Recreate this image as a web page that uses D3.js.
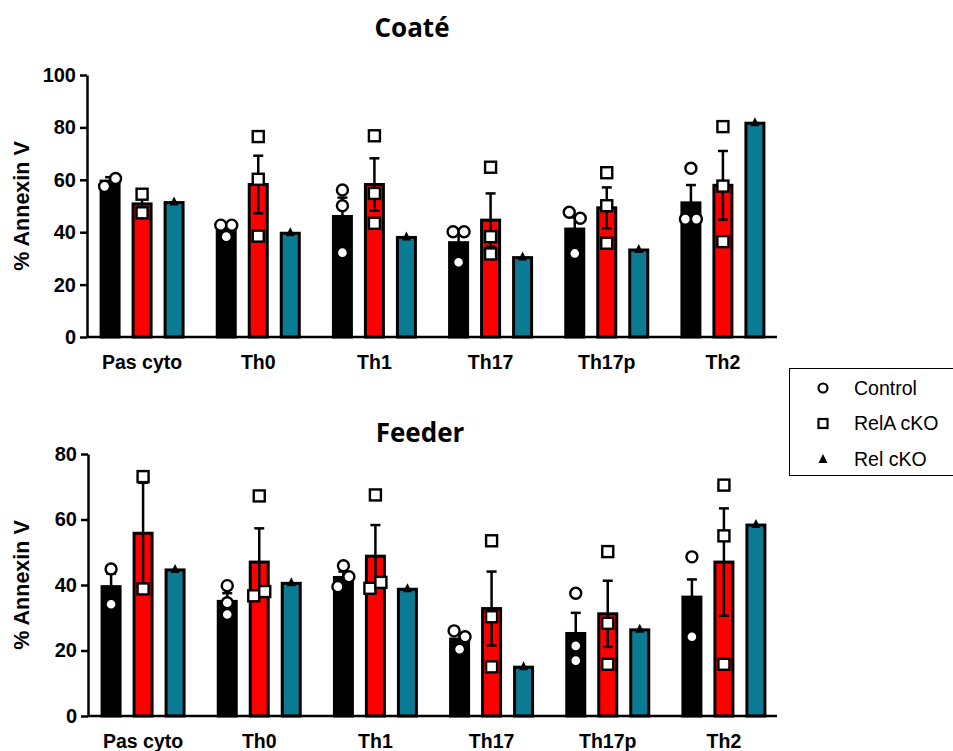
<!DOCTYPE html>
<html>
<head>
<meta charset="utf-8">
<script src="https://cdn.jsdelivr.net/npm/d3@7"></script>
<style>
  html, body { margin: 0; padding: 0; background: #fff; }
  svg { display: block; }
</style>
</head>
<body>
<svg id="chart" width="953" height="751"></svg>
<script>
// ---------- DATA ----------
const categories = ["Pas cyto", "Th0", "Th1", "Th17", "Th17p", "Th2"];
const seriesNames = ["Control", "RelA cKO", "Rel cKO"];

// Coaté panel
const coateTicks = [0, 20, 40, 60, 80, 100];
const coateControl = [59.5, 41.5, 46.0, 36.0, 41.2, 51.2];
const coateControlSem = [1.5, 1.5, 7.2, 4.0, 4.5, 6.8];
const coateControlPts = [[57.5, 60.5], [42.7, 42.7, 38.3], [56.1, 50.1, 32.2], [40.2, 40.2, 28.5], [47.6, 45.3, 31.9], [64.4, 45.0, 45.0]];
const coateRelA = [50.8, 58.2, 58.2, 44.6, 49.3, 57.9];
const coateRelASem = [3.3, 11.0, 10.0, 10.2, 7.8, 13.1];
const coateRelAPts = [[54.5, 47.4], [76.5, 60.2, 38.5], [76.8, 54.8, 43.4], [64.8, 38.3, 31.7], [62.7, 50.1, 35.8], [80.3, 57.6, 36.4]];
const coateRel = [51.3, 39.6, 38.0, 30.3, 33.2, 81.6];

// Feeder panel
const feederTicks = [0, 20, 40, 60, 80];
const feederControl = [39.5, 35.0, 42.3, 23.5, 25.2, 36.3];
const feederControlSem = [4.0, 2.5, 1.8, 1.5, 6.3, 5.4];
const feederControlPts = [[44.9, 34.1], [39.8, 34.6, 31.0], [45.9, 39.5, 42.5], [26.0, 24.2, 20.4], [37.5, 21.4, 16.9], [48.6, 24.2]];
const feederRelA = [55.8, 47.0, 48.8, 32.8, 31.2, 47.0];
const feederRelASem = [15.4, 10.3, 9.5, 11.3, 10.1, 16.4];
const feederRelAPts = [[73.1, 38.8], [67.2, 36.7, 38.0], [67.5, 39.0, 40.8], [53.5, 30.3, 15.0], [50.2, 28.3, 15.8], [70.5, 55.0, 15.8]];
const feederRel = [44.6, 40.5, 38.7, 14.9, 26.3, 58.3];

// ---------- STYLE ----------
const colors = { "Control": "#000000", "RelA cKO": "#ff0000", "Rel cKO": "#0b7b93" };
const boldFont = "'Liberation Sans', Arial, sans-serif";

const svg = d3.select("#chart");

function drawPanel(cfg) {
  const g = svg.append("g");
  const y = d3.scaleLinear().domain([0, cfg.max]).range([cfg.y0, cfg.y1]);
  const x = d3.scaleBand().domain(categories).range([cfg.xr0, cfg.xr1]).padding(0);
  const sub = d3.scaleBand().domain(seriesNames).range([-48, 48]).padding(0);
  const cx = (cat, s) => x(cat) + x.bandwidth() / 2 + sub(s) + sub.bandwidth() / 2;
  const barW = 18;

  // title
  g.append("text").attr("x", cfg.titleX).attr("y", cfg.titleY)
    .attr("text-anchor", "middle")
    .style("font-family", "'Open Sans', sans-serif").style("font-weight", 700)
    .style("font-size", "26px").text(cfg.title);

  // bars
  const bars = [];
  categories.forEach((c, i) => {
    bars.push({ c, s: "Control", v: cfg.control[i] });
    bars.push({ c, s: "RelA cKO", v: cfg.relA[i] });
    bars.push({ c, s: "Rel cKO", v: cfg.rel[i] });
  });
  g.selectAll("rect.bar").data(bars).enter().append("rect")
    .attr("class", "bar")
    .attr("x", d => cx(d.c, d.s) - barW / 2)
    .attr("width", barW)
    .attr("y", d => y(d.v))
    .attr("height", d => y(0) - y(d.v))
    .attr("fill", d => colors[d.s])
    .attr("stroke", "#000").attr("stroke-width", 3);

  // error bars (mean ± SEM)
  const errs = [];
  categories.forEach((c, i) => {
    errs.push({ c, s: "Control", m: cfg.control[i], e: cfg.controlSem[i] });
    errs.push({ c, s: "RelA cKO", m: cfg.relA[i], e: cfg.relASem[i] });
  });
  const eg = g.selectAll("g.err").data(errs).enter().append("g").attr("class", "err")
    .attr("stroke", "#000").attr("stroke-width", 2.5);
  eg.append("line")
    .attr("x1", d => cx(d.c, d.s)).attr("x2", d => cx(d.c, d.s))
    .attr("y1", d => y(d.m - d.e)).attr("y2", d => y(d.m + d.e));
  eg.append("line")
    .attr("x1", d => cx(d.c, d.s) - 5).attr("x2", d => cx(d.c, d.s) + 5)
    .attr("y1", d => y(d.m + d.e)).attr("y2", d => y(d.m + d.e));
  eg.append("line")
    .attr("x1", d => cx(d.c, d.s) - 5).attr("x2", d => cx(d.c, d.s) + 5)
    .attr("y1", d => y(d.m - d.e)).attr("y2", d => y(d.m - d.e));

  // individual points, spread horizontally when they would overlap
  function spread(vals) {
    const px = vals.map(v => y(v));
    const idx = vals.map((v, i) => i).sort((a, b) => px[a] - px[b]);
    const clusters = [];
    idx.forEach(i => {
      const last = clusters[clusters.length - 1];
      if (last && Math.abs(px[i] - px[last[last.length - 1]]) < 11) last.push(i);
      else clusters.push([i]);
    });
    const off = new Array(vals.length).fill(0);
    clusters.forEach(cl => {
      const ordered = cl.slice().sort((a, b) => a - b);
      ordered.forEach((i, k) => { off[i] = (k - (ordered.length - 1) / 2) * 11; });
    });
    return off;
  }
  const pts = [];
  categories.forEach((c, i) => {
    const o1 = spread(cfg.controlPts[i]);
    cfg.controlPts[i].forEach((v, k) => pts.push({ c, s: "Control", v, o: o1[k] }));
    const o2 = spread(cfg.relAPts[i]);
    cfg.relAPts[i].forEach((v, k) => pts.push({ c, s: "RelA cKO", v, o: o2[k] }));
    pts.push({ c, s: "Rel cKO", v: cfg.rel[i], o: 0 });
  });
  g.selectAll("circle.pt").data(pts.filter(p => p.s === "Control")).enter().append("circle")
    .attr("cx", d => cx(d.c, d.s) + d.o).attr("cy", d => y(d.v)).attr("r", 5.5)
    .attr("fill", "#fff").attr("stroke", "#000").attr("stroke-width", 2.4);
  g.selectAll("rect.pt").data(pts.filter(p => p.s === "RelA cKO")).enter().append("rect")
    .attr("x", d => cx(d.c, d.s) + d.o - 5.5).attr("y", d => y(d.v) - 5.5)
    .attr("width", 11).attr("height", 11)
    .attr("fill", "#fff").attr("stroke", "#000").attr("stroke-width", 2.4);
  g.selectAll("path.pt").data(pts.filter(p => p.s === "Rel cKO")).enter().append("path")
    .attr("d", d => {
      const px = cx(d.c, d.s), py = y(d.v);
      return `M${px - 4.5},${py + 3}L${px},${py - 6}L${px + 4.5},${py + 3}Z`;
    })
    .attr("fill", "#000");

  // y axis
  const ya = g.append("g").attr("transform", `translate(${cfg.axisX},0)`)
    .call(d3.axisLeft(y).tickValues(cfg.ticks).tickSize(7).tickSizeOuter(0).tickPadding(4));
  ya.select(".domain").attr("stroke", "#000").attr("stroke-width", 2.5);
  ya.selectAll(".tick line").attr("stroke", "#000").attr("stroke-width", 2.5);
  ya.selectAll(".tick text").style("font-family", boldFont).style("font-weight", 700)
    .style("font-size", "20px").attr("fill", "#000");

  // x axis line + labels
  g.append("line").attr("x1", cfg.axisX).attr("x2", cfg.axisEnd)
    .attr("y1", y(0)).attr("y2", y(0)).attr("stroke", "#000").attr("stroke-width", 2.5);
  g.selectAll("text.xl").data(categories).enter().append("text")
    .attr("class", "xl")
    .attr("x", d => x(d) + x.bandwidth() / 2)
    .attr("y", cfg.xLabelY)
    .attr("text-anchor", "middle")
    .style("font-family", boldFont).style("font-weight", 700).style("font-size", "19.5px")
    .text(d => d);

  // y label
  g.append("text")
    .attr("transform", `translate(29,${(cfg.y0 + cfg.y1) / 2}) rotate(-90)`)
    .attr("text-anchor", "middle")
    .style("font-family", boldFont).style("font-weight", 700).style("font-size", "21.5px")
    .text("% Annexin V");
}

drawPanel({
  title: "Coaté", titleX: 412, titleY: 37,
  max: 100, ticks: coateTicks, y0: 337, y1: 75,
  xr0: 84, xr1: 781, axisX: 87, axisEnd: 777, xLabelY: 369,
  control: coateControl, controlSem: coateControlSem, controlPts: coateControlPts,
  relA: coateRelA, relASem: coateRelASem, relAPts: coateRelAPts, rel: coateRel
});
drawPanel({
  title: "Feeder", titleX: 420, titleY: 442,
  max: 80, ticks: feederTicks, y0: 716, y1: 454,
  xr0: 85, xr1: 782, axisX: 88, axisEnd: 777, xLabelY: 748,
  control: feederControl, controlSem: feederControlSem, controlPts: feederControlPts,
  relA: feederRelA, relASem: feederRelASem, relAPts: feederRelAPts, rel: feederRel
});

// legend
const lg = svg.append("g");
lg.append("rect").attr("x", 789.5).attr("y", 368.5).attr("width", 170).attr("height", 107)
  .attr("fill", "#fff").attr("stroke", "#000").attr("stroke-width", 1);
const legY = d3.scalePoint().domain(seriesNames).range([388, 459]);
lg.append("circle").attr("cx", 823).attr("cy", legY("Control")).attr("r", 4.5)
  .attr("fill", "#fff").attr("stroke", "#000").attr("stroke-width", 2.2);
lg.append("rect").attr("x", 818.5).attr("y", legY("RelA cKO") - 4.5).attr("width", 9).attr("height", 9)
  .attr("fill", "#fff").attr("stroke", "#000").attr("stroke-width", 2.2);
lg.append("path").attr("d", `M${818.5},${legY("Rel cKO") + 4}L${823},${legY("Rel cKO") - 5}L${827.5},${legY("Rel cKO") + 4}Z`)
  .attr("fill", "#000");
lg.selectAll("text").data(seriesNames).enter().append("text")
  .attr("x", 854).attr("y", d => legY(d)).attr("dy", "0.35em")
  .style("font-family", "'Liberation Sans', Arial, sans-serif").style("font-size", "19.5px")
  .text(d => d);
</script>
</body>
</html>
